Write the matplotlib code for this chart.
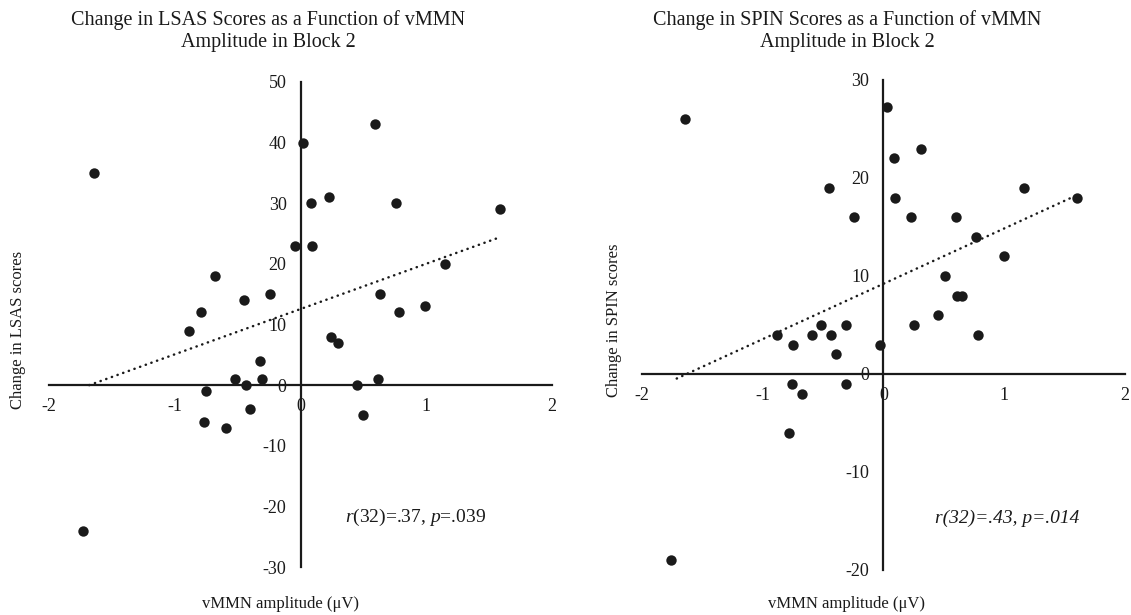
import matplotlib
matplotlib.use("Agg")
import matplotlib.pyplot as plt
import numpy as np

plt.rcParams['font.family'] = ['Liberation Serif', 'DejaVu Serif']
plt.rcParams['mathtext.fontset'] = 'custom'
plt.rcParams['mathtext.rm'] = 'Liberation Serif'
plt.rcParams['mathtext.it'] = 'Liberation Serif:italic'

INK = '#1a1a1a'

# LSAS panel (left)
lsas_x = [-1.64, 0.02, 0.08, -0.04, 0.09, -0.68, -0.45, -0.24, -0.79, -0.89,
          -0.32, -0.52, -0.31, -0.43, -0.75, -0.40, -0.77, -0.59, 0.59, 0.23,
          0.76, 1.59, 1.15, 0.63, 0.99, 0.78, 0.24, 0.30, 0.45, 0.62, 0.50, -1.73]
lsas_y = [35, 40, 30, 23, 23, 18, 14, 15, 12, 9,
          4, 1, 1, 0, -1, -4, -6, -7, 43, 31,
          30, 29, 20, 15, 13, 12, 8, 7, 0, 1, -5, -24]
lsas_fit = (7.47, 12.55)  # slope, intercept
lsas_yticks = [-30, -20, -10, 0, 10, 20, 30, 40, 50]

# SPIN panel (right)
spin_x = [-1.64, 0.03, -0.45, -0.24, 0.09, 0.31, 0.10, 0.23, 0.60, 1.16,
          1.60, 0.77, 1.00, 0.51, 0.61, 0.65, 0.45, 0.25, 0.78, -0.03,
          -0.88, -0.75, -0.59, -0.52, -0.43, -0.31, -0.39, -0.76, -0.67, -0.31,
          -0.78, -1.76]
spin_y = [26, 27.2, 19, 16, 22, 23, 18, 16, 16, 19,
          18, 14, 12, 10, 8, 8, 6, 5, 4, 3,
          4, 3, 4, 5, 4, 5, 2, -1, -2, -1,
          -6, -19]
spin_fit = (5.65, 9.2)
spin_yticks = [-20, -10, 0, 10, 20, 30]

xticks = [-2, -1, 0, 1, 2]

fig = plt.figure(figsize=(11.31, 6.15), dpi=100)
fig.patch.set_facecolor('white')


def panel(rect, xs, ys, fit, yticks, title, title_x, ylabel, ylabel_xy,
          xlabel_x, stat, stat_xy, stat_style='normal'):
    ax = fig.add_axes(rect)
    ax.scatter(xs, ys, s=56, color=INK, zorder=3, linewidths=0)
    slope, icpt = fit
    fx = np.array([min(xs) + 0.05, max(xs) - 0.03])
    ax.plot(fx, slope * fx + icpt, color=INK, lw=1.8,
            linestyle=(0, (0.1, 2.3)), dash_capstyle='round', zorder=2)
    ax.set_xlim(-2, 2)
    ax.set_ylim(yticks[0], yticks[-1])
    ax.set_xticks(xticks)
    ax.set_xticklabels([str(v) for v in xticks])
    ax.set_yticks(yticks)
    ax.set_yticklabels([str(v) for v in yticks])
    for side in ['top', 'right']:
        ax.spines[side].set_visible(False)
    ax.spines['left'].set_position(('data', 0))
    ax.spines['bottom'].set_position(('data', 0))
    for side in ['left', 'bottom']:
        ax.spines[side].set_linewidth(1.6)
        ax.spines[side].set_color(INK)
    ax.tick_params(axis='both', length=0, labelsize=13, colors=INK)
    ax.tick_params(axis='x', pad=9)
    ax.tick_params(axis='y', pad=10)
    ax.patch.set_alpha(0)
    fig.text(title_x, 1 - 31 / 615, title, ha='center', va='center',
             fontsize=14.5, color=INK, linespacing=1.15)
    fig.text(ylabel_xy[0], ylabel_xy[1], ylabel, rotation=90,
             ha='center', va='center', fontsize=12, color=INK)
    fig.text(xlabel_x, 1 - 604 / 615, 'vMMN amplitude (μV)',
             ha='center', va='center', fontsize=12, color=INK)
    fig.text(stat_xy[0], stat_xy[1], stat, ha='left', va='center',
             fontsize=14, color=INK, style=stat_style)
    return ax


panel([49 / 1131, 1 - 567 / 615, 503 / 1131, 485 / 615],
      lsas_x, lsas_y, lsas_fit, lsas_yticks,
      'Change in LSAS Scores as a Function of vMMN\nAmplitude in Block 2',
      268 / 1131, 'Change in LSAS scores', (18 / 1131, 1 - 330 / 615),
      280 / 1131, r'$r$(32)=.37, $p$=.039', (345 / 1131, 1 - 517 / 615))

panel([641.7 / 1131, 1 - 570 / 615, 483.3 / 1131, 490 / 615],
      spin_x, spin_y, spin_fit, spin_yticks,
      'Change in SPIN Scores as a Function of vMMN\nAmplitude in Block 2',
      847 / 1131, 'Change in SPIN scores', (614 / 1131, 1 - 320 / 615),
      846 / 1131, 'r(32)=.43, p=.014', (935 / 1131, 1 - 518 / 615),
      stat_style='italic')

fig.savefig('out.png', dpi=100)
